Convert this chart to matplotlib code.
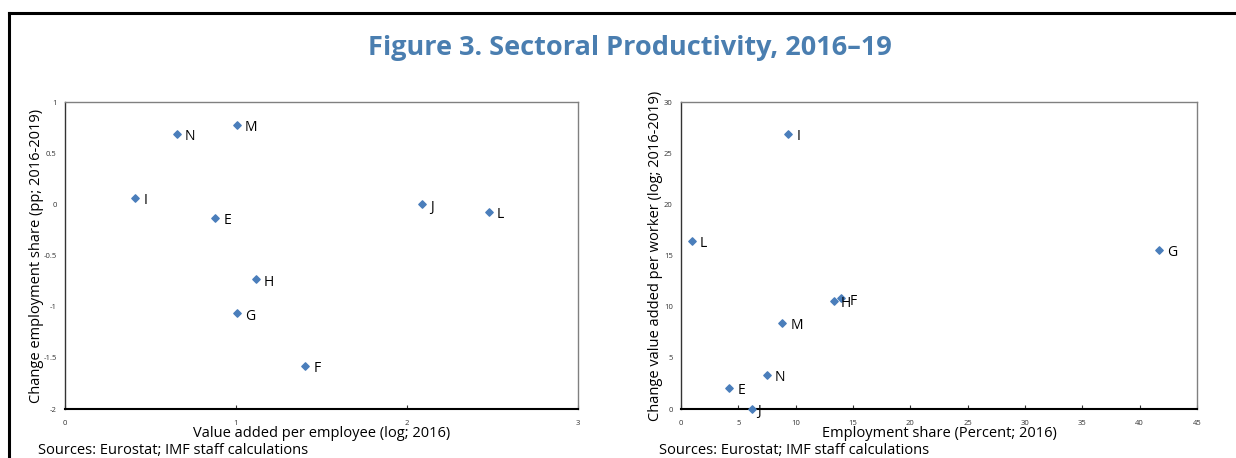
import matplotlib
matplotlib.use("Agg")
import matplotlib.pyplot as plt
from matplotlib.lines import Line2D

plt.rcParams['font.family'] = ['Open Sans', 'DejaVu Sans']

# left panel: value added per employee vs change in employment share
left_labels = ['N', 'M', 'I', 'E', 'H', 'G', 'F', 'J', 'L']
left_x = [0.653, 1.004, 0.409, 0.877, 1.115, 1.004, 1.405, 2.088, 2.478]
left_y = [0.69, 0.775, 0.065, -0.131, -0.733, -1.066, -1.58, 0.0, -0.072]

# right panel: employment share vs change value added per worker
right_labels = ['I', 'L', 'H', 'F', 'M', 'N', 'E', 'J', 'G']
right_x = [9.36, 0.93, 13.34, 13.95, 8.83, 7.47, 4.21, 6.16, 41.65]
right_y = [26.87, 16.41, 10.58, 10.81, 8.43, 3.34, 2.1, 0.0, 15.56]

left_xticks = [0, 1, 2, 3]
left_yticks = [-2, -1.5, -1, -0.5, 0, 0.5, 1]
right_xticks = [0, 5, 10, 15, 20, 25, 30, 35, 40, 45]
right_yticks = [0, 5, 10, 15, 20, 25, 30]

W, H = 1236, 458
blue = '#4a7ebb'

fig = plt.figure(figsize=(W / 100, H / 100), dpi=100)

# outer frame (left and top lines only)
fig.add_artist(Line2D([9 / W, 9 / W], [0, 1 - 12.5 / H], color='black', lw=2.2,
                      transform=fig.transFigure))
fig.add_artist(Line2D([9 / W, 1], [1 - 12.5 / H, 1 - 12.5 / H], color='black', lw=2.2,
                      transform=fig.transFigure))

fig.text(630 / W, 1 - 48 / H, 'Figure 3. Sectoral Productivity, 2016\u201319',
         ha='center', va='center', fontsize=19.5, fontweight='bold', color='#4a7eb0')


def make_panel(rect, xs, ys, labels, xticks, yticks, xlabel, ylabel, label_offsets,
               ylabel_x):
    l, t, r, b = rect
    ax = fig.add_axes([l / W, 1 - b / H, (r - l) / W, (b - t) / H])
    ax.scatter(xs, ys, marker='D', s=14, color=blue, zorder=3, clip_on=False)
    for x, y, lab in zip(xs, ys, labels):
        dx, dy = label_offsets.get(lab, (6, -2))
        ax.annotate(lab, (x, y), xytext=(dx, dy), textcoords='offset points',
                    ha='left', va='center', fontsize=10, color='black')
    ax.set_xlim(xticks[0], xticks[-1])
    ax.set_ylim(yticks[0], yticks[-1])
    ax.set_xticks(xticks)
    ax.set_yticks(yticks)
    ax.set_xticklabels([f'{v:g}' for v in xticks])
    ax.set_yticklabels([f'{v:g}' for v in yticks])
    ax.tick_params(axis='x', direction='in', length=3, width=0.8, labelsize=5.5,
                   pad=8, colors='#333333')
    ax.tick_params(axis='y', length=0, labelsize=5.5, pad=6, colors='#333333')
    for side in ['top', 'right']:
        ax.spines[side].set_color('#808080')
        ax.spines[side].set_linewidth(1.0)
    ax.spines['left'].set_color('#333333')
    ax.spines['left'].set_linewidth(1.0)
    ax.spines['bottom'].set_color('black')
    ax.spines['bottom'].set_linewidth(1.5)
    ax.set_xlabel(xlabel, fontsize=10.5, labelpad=-1)
    ax.set_ylabel(ylabel, fontsize=10.5)
    ax.yaxis.set_label_coords((ylabel_x - l) / (r - l), 0.5)
    return ax


make_panel((65, 102, 578, 409), left_x, left_y, left_labels,
           left_xticks, left_yticks,
           'Value added per employee (log; 2016)',
           'Change employment share (pp; 2016-2019)', {}, 44)
make_panel((681, 102, 1197, 409), right_x, right_y, right_labels,
           right_xticks, right_yticks,
           'Employment share (Percent; 2016)',
           'Change value added per worker (log; 2016-2019)',
           {'H': (5, -2), 'F': (6, -2), 'J': (4, -2)}, 663)

fig.text(38 / W, 1 - 451 / H, 'Sources: Eurostat; IMF staff calculations',
         ha='left', va='center', fontsize=10.5)
fig.text(659 / W, 1 - 451 / H, 'Sources: Eurostat; IMF staff calculations',
         ha='left', va='center', fontsize=10.5)

fig.savefig('out.png', dpi=100)
